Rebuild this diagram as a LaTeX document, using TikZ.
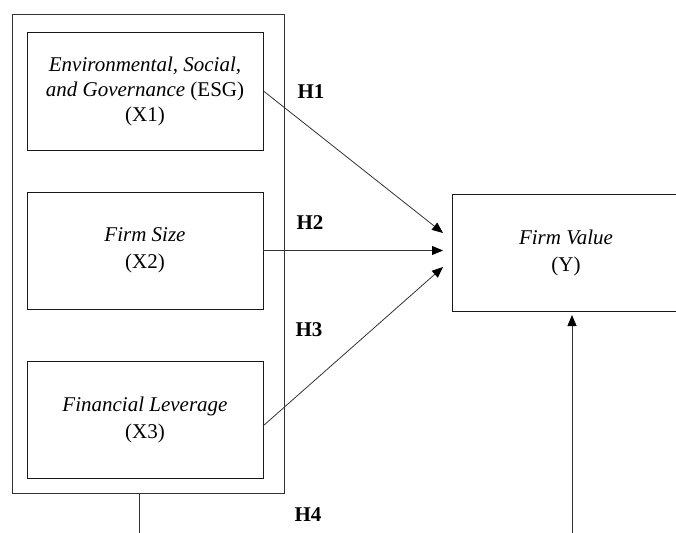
\documentclass[tikz,border=0pt]{standalone}
\usepackage{fontspec}
\setmainfont{Liberation Serif}
\usetikzlibrary{arrows.meta}
\begin{document}
\begin{tikzpicture}[x=1pt,y=-1pt,
  box/.style={draw=black!90,line width=0.9pt,inner sep=0pt,align=center,font=\fontsize{21}{27}\selectfont},
  outerbox/.style={draw=black!80,line width=0.9pt,inner sep=0pt},
  conn/.style={draw=black!80,line width=0.8pt},
  arr/.style={conn,-{Triangle[length=11pt,width=9pt,color=black]}},
  hlab/.style={font=\fontsize{21}{24}\selectfont\bfseries,inner sep=0pt}]
\useasboundingbox (0,0) rectangle (676,532);
\node[outerbox,minimum width=272pt,minimum height=479pt] (outer) at (148,253.5) {};
\node[box,minimum width=236pt,minimum height=118pt,font=\fontsize{21}{25}\selectfont] (esg) at (145,91)
  {\textit{Environmental, Social,}\\\textit{and Governance} (ESG)\\(X1)};
\node[box,minimum width=236pt,minimum height=117pt] (size) at (145,250.5) {\textit{Firm Size}\\(X2)};
\node[box,minimum width=236pt,minimum height=117pt] (lev) at (145,419.5) {\textit{Financial Leverage}\\(X3)};
\node[box,minimum width=232pt,minimum height=117pt] (fv) at (568,252.5) {};
\node[align=center,inner sep=0pt,font=\fontsize{21}{27}\selectfont] (fvt) at (566,252.5) {\textit{Firm Value}\\(Y)};
\coordinate (t1) at (443,233);
\coordinate (t2) at (443,250.5);
\coordinate (t3) at (443,267);
\coordinate (s3) at (263,426);
\coordinate (t4) at (572,315);
\coordinate (b4) at (572,533);
\coordinate (o4) at (139,493);
\coordinate (c4) at (139,533);
\draw[arr] (esg.east) -- (t1);
\draw[arr] (size.east) -- (t2);
\draw[arr] (s3) -- (t3);
\draw[conn] (o4) -- (c4);
\draw[arr] (b4) -- (t4);
\node[hlab] (h1) at (311,92) {H1};
\node[hlab] (h2) at (310,223) {H2};
\node[hlab] (h3) at (309,330) {H3};
\node[hlab] (h4) at (308,515) {H4};
\end{tikzpicture}
\end{document}
